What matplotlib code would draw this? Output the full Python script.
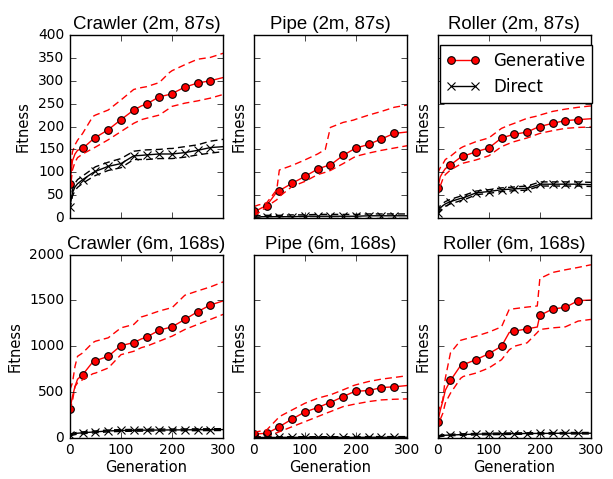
import matplotlib
matplotlib.use("Agg")
import matplotlib.pyplot as plt

plt.style.use("classic")

gens = [0, 5, 10, 15, 25, 45, 50, 75, 100, 125, 140, 150, 175, 195, 200, 225, 250, 275, 300]

# --- Crawler (2m, 87s)
crawl2_gen = [75, 125, 140, 148, 152, 172, 176, 193, 215, 236, 245, 249, 265, 270, 272, 286, 295, 300, 307]
crawl2_gen_hi = [90, 145, 160, 170, 185, 222, 225, 236, 258, 281, 285, 287, 296, 318, 322, 335, 347, 351, 360]
crawl2_gen_lo = [55, 105, 122, 132, 140, 152, 155, 171, 189, 207, 215, 218, 225, 240, 244, 251, 256, 262, 270]
crawl2_dir = [25, 55, 68, 75, 84, 99, 102, 113, 119, 136, 137, 138, 140, 140, 140, 143, 148, 154, 156]
crawl2_dir_hi = [32, 62, 76, 84, 92, 108, 112, 122, 130, 146, 148, 149, 150, 152, 152, 156, 160, 168, 172]
crawl2_dir_lo = [18, 48, 60, 67, 76, 90, 93, 104, 110, 128, 128, 128, 130, 130, 130, 133, 138, 142, 145]

# --- Pipe (2m, 87s)
pipe2_gen = [15, 17, 19, 22, 27, 57, 60, 76, 91, 107, 113, 116, 137, 150, 153, 161, 173, 185, 188]
pipe2_gen_hi = [25, 27, 29, 30, 33, 62, 105, 115, 127, 140, 150, 198, 209, 214, 216, 225, 233, 242, 247]
pipe2_gen_lo = [5, 8, 12, 16, 25, 40, 47, 69, 80, 95, 100, 104, 119, 132, 135, 142, 148, 153, 158]
pipe2_dir = [1, 2, 2, 3, 3, 3, 3, 3, 4, 4, 4, 4, 4, 4, 4, 5, 5, 5, 5]
pipe2_dir_hi = [3, 5, 5, 6, 6, 6, 6, 7, 7, 8, 8, 8, 8, 8, 8, 9, 9, 9, 9]
pipe2_dir_lo = [0, 0, 0, 0, 0, 0, 0, 0, 0, 0, 0, 0, 0, 0, 0, 0, 0, 0, 0]

# --- Roller (2m, 87s)
roll2_gen = [65, 90, 100, 108, 116, 133, 135, 145, 153, 175, 180, 183, 188, 198, 200, 207, 213, 215, 217]
roll2_gen_hi = [98, 110, 118, 128, 135, 153, 156, 167, 175, 196, 203, 207, 218, 223, 225, 233, 238, 242, 245]
roll2_gen_lo = [47, 70, 85, 95, 105, 118, 120, 127, 136, 156, 163, 167, 175, 183, 185, 191, 196, 198, 199]
roll2_dir = [11, 22, 27, 31, 36, 43, 44, 55, 58, 62, 63, 64, 65, 72, 74, 74, 74, 74, 73]
roll2_dir_hi = [14, 27, 32, 36, 41, 48, 49, 59, 62, 66, 67, 68, 70, 77, 79, 79, 79, 79, 78]
roll2_dir_lo = [8, 17, 22, 26, 31, 38, 39, 51, 54, 58, 59, 60, 61, 68, 70, 70, 70, 70, 69]

# --- Crawler (6m, 168s)
crawl6_gen = [311, 450, 560, 640, 689, 830, 842, 890, 1007, 1040, 1080, 1099, 1176, 1205, 1212, 1293, 1377, 1451, 1495]
crawl6_gen_hi = [524, 600, 780, 890, 927, 1040, 1055, 1092, 1201, 1238, 1320, 1337, 1385, 1415, 1421, 1557, 1604, 1648, 1703]
crawl6_gen_lo = [300, 400, 560, 600, 634, 700, 707, 762, 908, 945, 985, 1000, 1055, 1100, 1110, 1183, 1238, 1293, 1348]
crawl6_dir = [30, 38, 45, 50, 55, 63, 65, 75, 80, 82, 83, 84, 85, 86, 86, 87, 88, 89, 90]
crawl6_dir_hi = [40, 48, 55, 60, 65, 73, 75, 85, 90, 92, 93, 94, 95, 96, 96, 97, 98, 99, 100]
crawl6_dir_lo = [20, 28, 35, 40, 45, 53, 55, 65, 70, 72, 73, 74, 75, 76, 76, 77, 78, 79, 80]

# --- Pipe (6m, 168s)
pipe6_gen = [40, 42, 44, 46, 48, 105, 121, 205, 282, 330, 365, 385, 451, 500, 509, 516, 549, 557, 571]
pipe6_gen_hi = [60, 65, 70, 75, 84, 200, 231, 304, 377, 432, 455, 469, 524, 570, 579, 615, 641, 659, 678]
pipe6_gen_lo = [20, 15, 12, 10, 10, 55, 66, 121, 176, 231, 265, 286, 341, 365, 370, 396, 414, 421, 425]
pipe6_dir = [2, 3, 3, 4, 4, 4, 5, 5, 5, 5, 5, 5, 5, 5, 5, 6, 6, 6, 6]
pipe6_dir_hi = [6, 8, 9, 10, 10, 11, 11, 12, 12, 12, 12, 12, 12, 12, 12, 13, 13, 13, 13]
pipe6_dir_lo = [0, 0, 0, 0, 0, 0, 0, 0, 0, 0, 0, 0, 0, 0, 0, 0, 0, 0, 0]

# --- Roller (6m, 168s)
roll6_gen = [168, 300, 400, 520, 626, 790, 799, 853, 919, 1000, 1150, 1165, 1190, 1210, 1337, 1407, 1425, 1498, 1505]
roll6_gen_hi = [267, 350, 414, 652, 927, 1065, 1073, 1110, 1154, 1212, 1403, 1410, 1428, 1440, 1740, 1806, 1835, 1861, 1890]
roll6_gen_lo = [84, 200, 267, 380, 487, 650, 670, 707, 762, 853, 960, 1000, 1037, 1150, 1183, 1201, 1212, 1275, 1293]
roll6_dir = [10, 20, 25, 28, 30, 35, 36, 40, 42, 44, 45, 46, 47, 48, 48, 49, 50, 50, 50]
roll6_dir_hi = [16, 28, 33, 36, 38, 43, 44, 48, 50, 52, 53, 54, 55, 56, 56, 57, 58, 58, 58]
roll6_dir_lo = [4, 12, 17, 20, 22, 27, 28, 32, 34, 36, 37, 38, 39, 40, 40, 41, 42, 42, 42]

titles = ["Crawler (2m, 87s)", "Pipe (2m, 87s)", "Roller (2m, 87s)",
          "Crawler (6m, 168s)", "Pipe (6m, 168s)", "Roller (6m, 168s)"]

panels = [
    (crawl2_gen, crawl2_gen_hi, crawl2_gen_lo, crawl2_dir, crawl2_dir_hi, crawl2_dir_lo),
    (pipe2_gen, pipe2_gen_hi, pipe2_gen_lo, pipe2_dir, pipe2_dir_hi, pipe2_dir_lo),
    (roll2_gen, roll2_gen_hi, roll2_gen_lo, roll2_dir, roll2_dir_hi, roll2_dir_lo),
    (crawl6_gen, crawl6_gen_hi, crawl6_gen_lo, crawl6_dir, crawl6_dir_hi, crawl6_dir_lo),
    (pipe6_gen, pipe6_gen_hi, pipe6_gen_lo, pipe6_dir, pipe6_dir_hi, pipe6_dir_lo),
    (roll6_gen, roll6_gen_hi, roll6_gen_lo, roll6_dir, roll6_dir_hi, roll6_dir_lo),
]

# markers every 25 generations, not on the last one
marks = [i for i, g in enumerate(gens) if g % 25 == 0 and g < 300]
dash = (5, 3)

fig, axes = plt.subplots(2, 3, figsize=(6.13, 4.79), dpi=100, sharex=True, sharey="row")
fig.subplots_adjust(left=0.114, right=0.964, top=0.927, bottom=0.086, wspace=0.2, hspace=0.2)

for k, ax in enumerate(axes.flat):
    g, g_hi, g_lo, d, d_hi, d_lo = panels[k]
    ax.plot(gens, g, color="red", lw=1, marker="o", markersize=5.5, mfc="red",
            mec="black", mew=0.8, markevery=marks, label="Generative")
    ax.plot(gens, g_hi, color="red", lw=1, ls="--", dashes=dash)
    ax.plot(gens, g_lo, color="red", lw=1, ls="--", dashes=dash)
    ax.plot(gens, d, color="black", lw=1, marker="x", markersize=5.5, mew=0.8,
            markevery=marks, label="Direct")
    ax.plot(gens, d_hi, color="black", lw=1, ls="--", dashes=dash)
    ax.plot(gens, d_lo, color="black", lw=1, ls="--", dashes=dash)
    ax.set_title(titles[k], fontsize=13.4, family="Liberation Sans", pad=4)
    ax.set_ylabel("Fitness", fontsize=10.5)
    ax.set_xlim(0, 300)
    ax.set_xticks([0, 100, 200, 300])
    ax.tick_params(labelsize=10)
    if k >= 3:
        ax.set_xlabel("Generation", fontsize=10.5, labelpad=2)

axes[0, 0].set_ylim(0, 400)
axes[0, 0].set_yticks(range(0, 401, 50))
axes[1, 0].set_ylim(0, 2000)
axes[1, 0].set_yticks(range(0, 2001, 500))

for ax in list(axes[:, 1]) + list(axes[:, 2]):
    ax.tick_params(labelleft=False)

leg = axes[0, 2].legend(loc="upper right", fontsize=12, numpoints=2,
                        fancybox=False, bbox_to_anchor=(1.06, 0.99))
leg.get_frame().set_edgecolor("black")

fig.savefig("out.png", dpi=100)
